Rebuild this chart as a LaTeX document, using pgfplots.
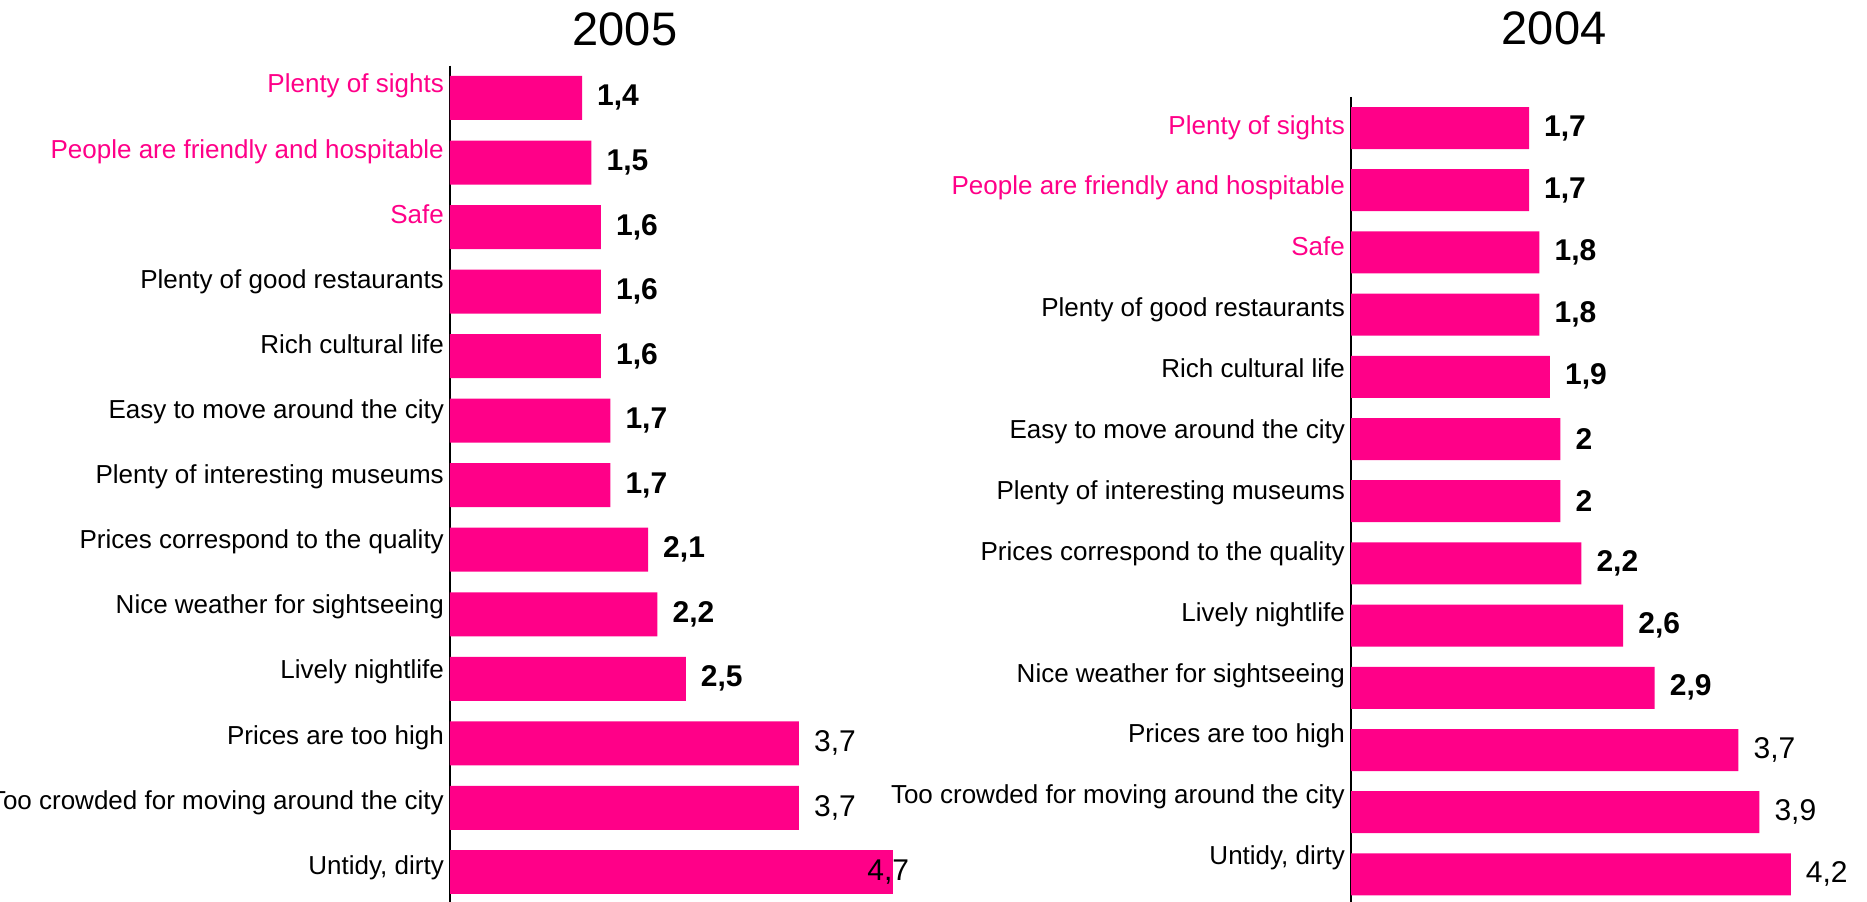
\documentclass[border=0pt]{standalone}
\usepackage{pgfplots}
\pgfplotsset{compat=1.18}
\usepackage{fontspec}
\setmainfont{Liberation Sans}
\definecolor{barpink}{RGB}{255,0,136}

\pgfplotsset{
  mybars/.style={
    scale only axis, xmin=0, xmax=5, ymin=-0.5, ymax=12.5, y dir=reverse,
    axis x line=none, axis y line=left,
    y axis line style={-, line width=1.3bp, black},
    major tick length=0, clip=false,
    yticklabel style={font=\fontsize{26bp}{30bp}\selectfont, anchor=base east,
      inner sep=0pt, xshift=-6bp},
    /pgf/number format/use comma,
    /pgf/number format/assume math mode=true,
  },
  pbar/.style={xbar, bar shift=0pt, fill=barpink, draw=none, point meta=x,
    nodes near coords, nodes near coords align={horizontal}},
  boldlab/.style={every node near coord/.append style={font=\fontsize{30bp}{34bp}\selectfont\bfseries,
    anchor=west, inner sep=0pt, xshift=15bp, text=black}},
  reglab/.style={every node near coord/.append style={font=\fontsize{30bp}{34bp}\selectfont,
    anchor=west, inner sep=0pt, xshift=15bp, text=black}},
}

\begin{document}
\begin{tikzpicture}
\useasboundingbox (0,0) rectangle (1867bp,902bp);
\clip (0,0) rectangle (1867bp,902bp);

% ---------------- 2005 ----------------
\begin{axis}[mybars,
  at={(450bp,-2.7bp)}, anchor=south west,
  width=471.5bp, height=839bp,
  title={2005},
  every axis title/.style={at={(0.371,1)}, anchor=base, yshift=20.7bp,
    font=\fontsize{47bp}{50bp}\selectfont},
  ytick={-0.078,0.931,1.940,2.949,3.957,4.966,5.975,6.983,7.992,9.001,10.010,11.018,12.027},
  yticklabels={\textcolor{barpink}{Plenty of sights},
    \textcolor{barpink}{People are friendly and hospitable},
    \textcolor{barpink}{Safe},
    Plenty of good restaurants, Rich cultural life,
    Easy to move around the city, Plenty of interesting museums,
    Prices correspond to the quality, Nice weather for sightseeing,
    Lively nightlife, Prices are too high,
    Too crowded for moving around the city, {Untidy, dirty}},
]
\addplot[pbar, bar width=44bp, boldlab] coordinates {
  (1.4,0) (1.5,1) (1.6,2) (1.6,3) (1.6,4) (1.7,5) (1.7,6)
  (2.1,7) (2.2,8) (2.5,9)};
\addplot[pbar, bar width=44bp, reglab] coordinates {
  (3.7,10) (3.7,11)};
\addplot[pbar, bar width=44bp, reglab,
  every node near coord/.append style={xshift=-41bp}] coordinates {
  (4.7,12)};
\end{axis}

% ---------------- 2004 ----------------
\begin{axis}[mybars,
  at={(1351bp,-3.5bp)}, anchor=south west,
  width=523.5bp, height=808.6bp,
  title={2004},
  every axis title/.style={at={(0.388,1)}, anchor=base, yshift=52bp,
    font=\fontsize{47bp}{50bp}\selectfont},
  ytick={0.097,1.076,2.055,3.034,4.013,4.992,5.971,6.950,7.929,8.908,9.887,10.866,11.845},
  yticklabels={\textcolor{barpink}{Plenty of sights},
    \textcolor{barpink}{People are friendly and hospitable},
    \textcolor{barpink}{Safe},
    Plenty of good restaurants, Rich cultural life,
    Easy to move around the city, Plenty of interesting museums,
    Prices correspond to the quality, Lively nightlife,
    Nice weather for sightseeing, Prices are too high,
    Too crowded for moving around the city, {Untidy, dirty}},
]
\addplot[pbar, bar width=42bp, boldlab] coordinates {
  (1.7,0) (1.7,1) (1.8,2) (1.8,3) (1.9,4) (2,5) (2,6)
  (2.2,7) (2.6,8) (2.9,9)};
\addplot[pbar, bar width=42bp, reglab] coordinates {
  (3.7,10) (3.9,11) (4.2,12)};
\end{axis}
\end{tikzpicture}
\end{document}
